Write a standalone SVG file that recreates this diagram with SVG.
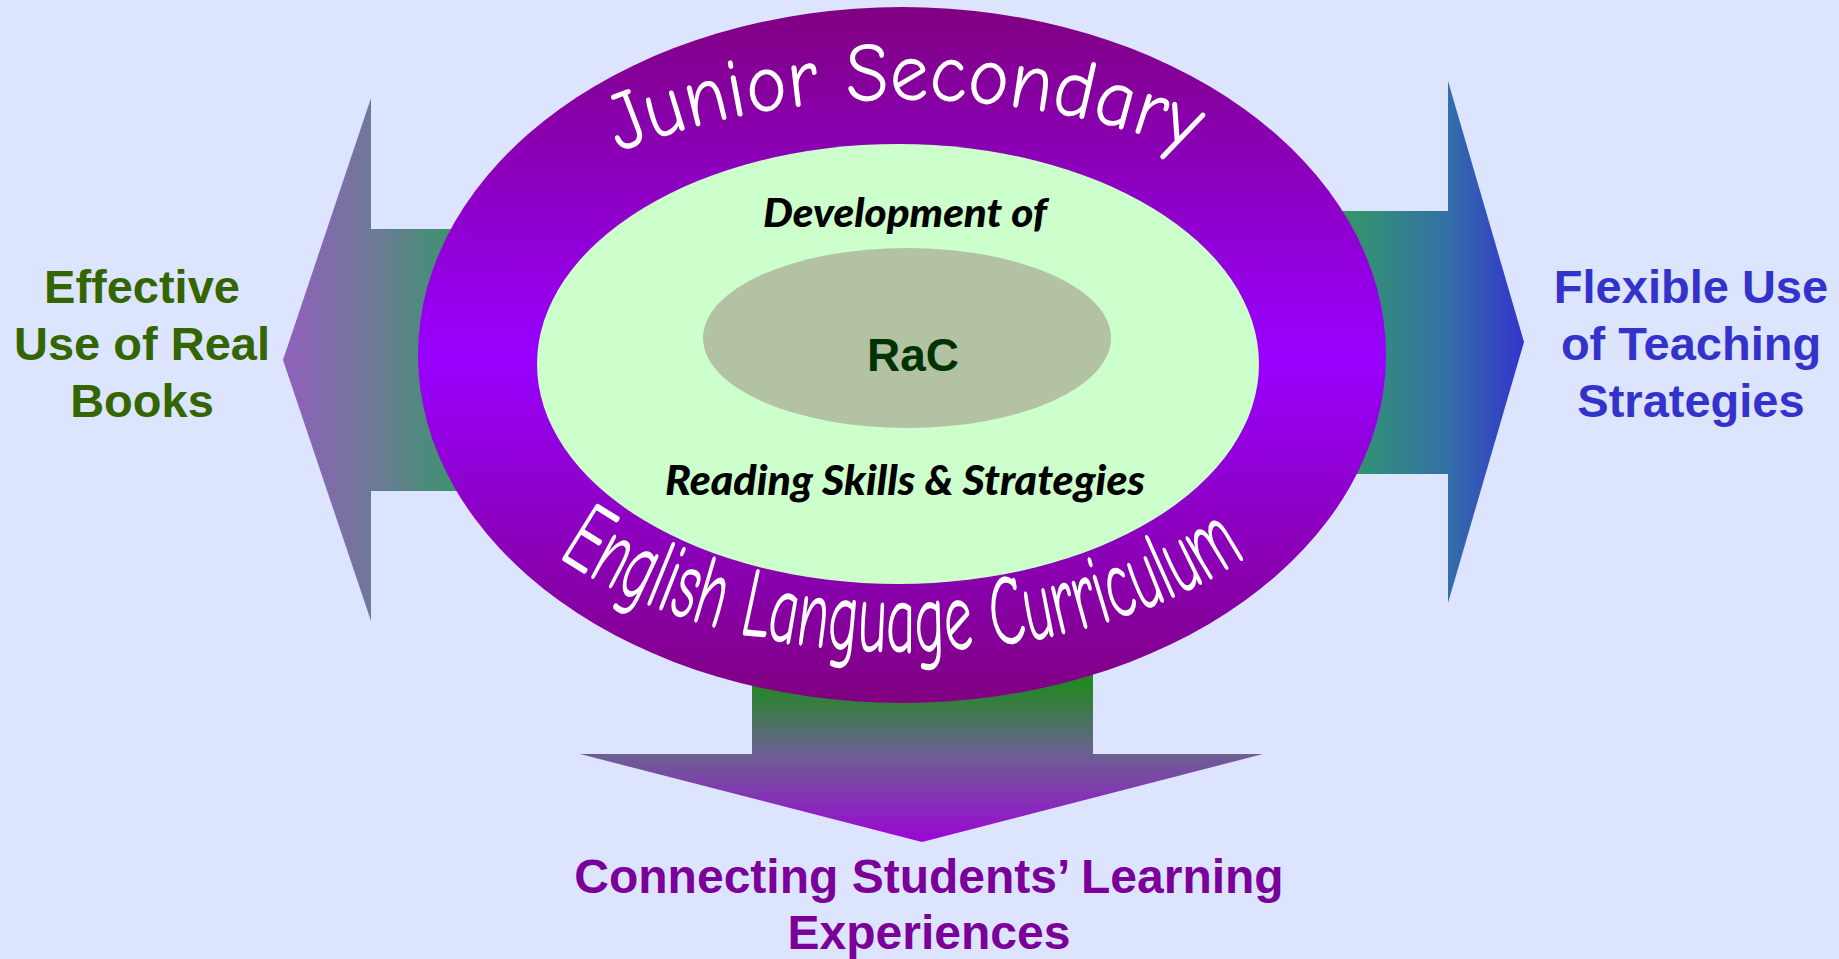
<svg xmlns="http://www.w3.org/2000/svg" width="1839" height="959" viewBox="0 0 1839 959">
<style>
.lbl{font-family:"Liberation Sans",Arial,sans-serif;font-weight:bold;font-size:47px;text-anchor:middle}
.arc{font-family:"Comic Sans MS","Comic Neue","DejaVu Sans",sans-serif;fill:#ffffff}
.sub{font-family:Lato,"Noto Sans",sans-serif;font-weight:900;font-style:italic;fill:#000000;text-anchor:middle}
</style>
<defs>
  <linearGradient id="gLeft" gradientUnits="userSpaceOnUse" x1="283" y1="0" x2="470" y2="0">
    <stop offset="0" stop-color="#9160bb"/>
    <stop offset="0.47" stop-color="#6f7898"/>
    <stop offset="1" stop-color="#339966"/>
  </linearGradient>
  <linearGradient id="gRight" gradientUnits="userSpaceOnUse" x1="1340" y1="0" x2="1524" y2="0">
    <stop offset="0" stop-color="#339966"/>
    <stop offset="0.58" stop-color="#3370a8"/>
    <stop offset="1" stop-color="#3333cc"/>
  </linearGradient>
  <linearGradient id="gDown" gradientUnits="userSpaceOnUse" x1="0" y1="683" x2="0" y2="842">
    <stop offset="0" stop-color="#228822"/>
    <stop offset="0.45" stop-color="#6c6092"/>
    <stop offset="1" stop-color="#9c05d6"/>
  </linearGradient>
  <linearGradient id="gRing" x1="0" y1="0" x2="0" y2="1">
    <stop offset="0" stop-color="#800080"/>
    <stop offset="0.5" stop-color="#9900ff"/>
    <stop offset="1" stop-color="#800080"/>
  </linearGradient>
  <!-- baselines for the curved ring titles -->
  <path id="topArc" d="M 435 355 A 470 255 0 0 1 1375 355"/>
  <path id="botArc" d="M 432 355 A 470 297 0 0 0 1372 355"/>
</defs>

<rect width="1839" height="959" fill="#dde4fe"/>

<!-- block arrows leading out of the curriculum ring -->
<g id="connectors">
  <path id="arrow-left" d="M283 360 L371 98 L371 229 L540 229 L540 491 L371 491 L371 621 Z" fill="url(#gLeft)"/>
  <path id="arrow-right" d="M1524 342 L1448 81 L1448 211 L1280 211 L1280 474 L1448 474 L1448 603 Z" fill="url(#gRight)"/>
  <path id="arrow-down" d="M922 842 L580 754 L752 754 L752 600 L1093 600 L1093 754 L1263 754 Z" fill="url(#gDown)"/>
</g>

<g id="ring">
  <ellipse cx="902" cy="355" rx="484" ry="348" fill="url(#gRing)"/>
  <text class="arc" font-size="84"><textPath href="#topArc" startOffset="50%" text-anchor="middle" textLength="585" lengthAdjust="spacingAndGlyphs">Junior Secondary</textPath></text>
  <text class="arc" font-size="100"><textPath href="#botArc" startOffset="50%" text-anchor="middle" textLength="725" lengthAdjust="spacingAndGlyphs">English Language Curriculum</textPath></text>
</g>

<g id="skills">
  <ellipse cx="898" cy="364" rx="361" ry="220" fill="#ccffcc"/>
  <text class="sub" x="905" y="227" font-size="39" textLength="284" lengthAdjust="spacingAndGlyphs">Development of</text>
  <text class="sub" x="905" y="495" font-size="41" textLength="480" lengthAdjust="spacingAndGlyphs">Reading Skills &amp; Strategies</text>
</g>

<g id="rac">
  <ellipse cx="907" cy="338" rx="204" ry="90" fill="#b3c2a3"/>
  <text class="lbl" x="913" y="371" style="font-size:46px" fill="#003300">RaC</text>
</g>

<g id="real-books">
  <text class="lbl" fill="#336600"><tspan x="142" y="303">Effective</tspan><tspan x="142" y="360">Use of Real</tspan><tspan x="142" y="417">Books</tspan></text>
</g>

<g id="teaching-strategies">
  <text class="lbl" fill="#3333cc"><tspan x="1691" y="303">Flexible Use</tspan><tspan x="1691" y="360">of Teaching</tspan><tspan x="1691" y="417">Strategies</tspan></text>
</g>

<g id="learning-experiences">
  <text class="lbl" fill="#7b0099" style="font-size:48px"><tspan x="929" y="893">Connecting Students’ Learning</tspan><tspan x="929" y="949">Experiences</tspan></text>
</g>
</svg>
